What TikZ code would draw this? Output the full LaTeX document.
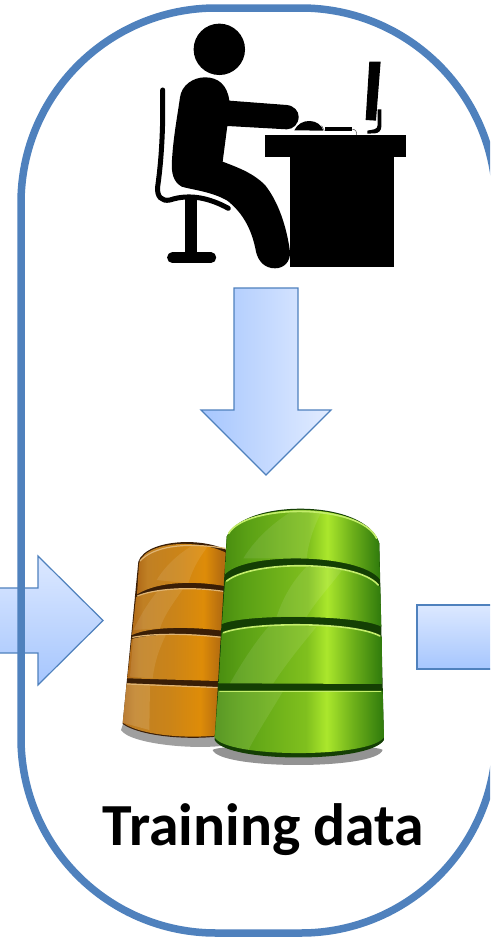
\documentclass[tikz,border=0pt]{standalone}
\usepackage{fontspec}
\setmainfont{Carlito}
\definecolor{ringblue}{HTML}{4F81BD}
\definecolor{arrowlight}{HTML}{E2ECFF}
\definecolor{arrowdark}{HTML}{A6C6FE}
\definecolor{greendark}{HTML}{143F04}
\definecolor{orangedark}{HTML}{3A1E06}
\definecolor{greenA}{HTML}{4A8E10}
\definecolor{greenB}{HTML}{5AA015}
\definecolor{greenC}{HTML}{80C01E}
\definecolor{greenD}{HTML}{ABE72C}
\definecolor{greenE}{HTML}{6DB01A}
\definecolor{greenF}{HTML}{2F7A0C}
\definecolor{orangeA}{HTML}{B06A18}
\definecolor{orangeB}{HTML}{C08024}
\definecolor{orangeC}{HTML}{CB8418}
\definecolor{orangeD}{HTML}{DE8C08}
\definecolor{orangeE}{HTML}{B56D10}
\definecolor{orangeF}{HTML}{B56D10}
\pgfdeclarehorizontalshading{greenbody}{100bp}{
 color(0bp)=(greenA);
 color(25bp)=(greenA);color(32bp)=(greenB);color(52bp)=(greenC);color(58bp)=(greenD);color(66bp)=(greenE);color(75bp)=(greenF);color(100bp)=(greenF)}
\pgfdeclarehorizontalshading{orangebody}{100bp}{
 color(0bp)=(orangeA);
 color(25bp)=(orangeA);color(30bp)=(orangeB);color(45bp)=(orangeC);color(58bp)=(orangeD);color(66bp)=(orangeE);color(75bp)=(orangeF);color(100bp)=(orangeF)}
\tikzset{
 ring/.style={draw=ringblue,line width=7.5pt,rounded corners=195pt},
 arrowshape/.style={draw=ringblue,line width=1.2pt,line join=miter},
 fillv/.style={top color=arrowlight!90!arrowdark,bottom color=arrowdark},
 fillh/.style={left color=arrowdark,right color=arrowlight},
 ink/.style={fill=black,draw=none},
 greenseg/.style={shading=greenbody,draw=none},
 orangeseg/.style={shading=orangebody,draw=none},
 gleam/.style={fill=white,opacity=.09,draw=none},
 grim/.style={draw=greenD!70!white,line width=1.6pt,line cap=round},
 orim/.style={draw=orangeC!60!white,line width=1.2pt,line cap=round},
 captiontext/.style={font=\bfseries\fontsize{59.7}{62}\selectfont,text=black,inner sep=0pt,anchor=base}
}
\begin{document}
\begin{tikzpicture}[x=1pt,y=-1pt]
\useasboundingbox (0,0) rectangle (490,937);
\clip (0,0) rectangle (490,937);
\fill[white] (0,0) rectangle (490,937);

% arrows
\path[arrowshape,fillv] (-5,588) -- (38,588) -- (38,556) -- (103,620.5) -- (38,685) -- (38,653) -- (-5,653) -- cycle;
\path[arrowshape,fillh] (234,288) -- (298,288) -- (298,410) -- (331,410) -- (266,475) -- (201,410) -- (234,410) -- cycle;
\path[arrowshape,fillv] (417,605) -- (500,605) -- (500,669) -- (417,669) -- cycle;

% ring
\draw[ring] (21,8) rectangle (496,933);

% person at desk (zoom coordinates)
\begin{scope}[shift={(140,10)},x=0.3333pt,y=-0.3333pt]
 \fill[ink] (238,118) circle [radius=25.7pt];
 \fill[ink] (120,262) .. controls (125,225) and (160,202) .. (195,202) .. controls (235,202) and (262,225) .. (268,272)
   -- (440,285) .. controls (462,287) and (476,303) .. (476,320) .. controls (476,342) and (460,358) .. (440,358)
   -- (262,348) -- (248,455) .. controls (300,475) and (340,490) .. (375,525)
   .. controls (415,575) and (440,650) .. (450,725) .. controls (452,755) and (432,775) .. (405,775)
   .. controls (375,775) and (355,755) .. (348,725) .. controls (336,660) and (310,610) .. (262,572)
   .. controls (215,545) and (160,540) .. (125,530) .. controls (100,515) and (93,490) .. (96,450)
   .. controls (100,380) and (112,320) .. (120,262) -- cycle;
 \draw[black,line width=5pt,line cap=round,line join=round]
   (68,240) -- (68,330) .. controls (66,420) and (60,480) .. (53,530)
   .. controls (50,560) and (65,575) .. (90,570) .. controls (150,550) and (210,565) .. (265,595);
 \fill[ink] (135,565) rectangle (171,735);
 \draw[black,line width=10.5pt,line cap=round] (97,743) -- (213,743);
 \fill[ink] (375,375) rectangle (798,442);
 \fill[ink] (450,442) rectangle (762,772);
 \fill[ink] (688,155) -- (722,155) -- (708,332) -- (677,330) -- cycle;
 \fill[ink] (713,298) -- (724,298) -- (724,350) .. controls (724,362) and (716,369) .. (705,370) -- (682,371) -- (682,362) -- (703,358) .. controls (710,356) and (713,352) .. (713,345) -- cycle;
 \fill[ink] (463,361) .. controls (472,342) and (490,332) .. (510,333) .. controls (530,334) and (545,345) .. (550,362) -- cycle;
 \fill[ink] (555,350) -- (637,350) -- (637,364) -- (555,364) -- cycle;
 \draw[black!70,line width=.5pt] (637,358) .. controls (648,358) and (650,365) .. (650,375);
 \draw[black!70,line width=.5pt] (545,347) -- (553,362);
\end{scope}

% databases (zoom coordinates)
\begin{scope}[shift={(110,500)},x=0.3333pt,y=-0.3333pt]
 % shadows
 \fill[gray!75] (33,690) .. controls (60,735) and (290,755) .. (380,730) -- (380,700) -- (40,670) -- cycle;
 \fill[gray!85] (308,750) .. controls (330,810) and (800,810) .. (818,750) .. controls (800,730) and (330,730) .. (308,750) -- cycle;

 % orange cylinder
 \fill[orangedark] (85,185) .. controls (110,110) and (330,105) .. (390,180) -- (380,700) .. controls (280,725) and (100,715) .. (38,672) -- cycle;
 \path[orangeseg] (87,190) .. controls (110,110) and (330,115) .. (390,190) -- (390,268) .. controls (280,240) and (150,240) .. (81,283) -- cycle;
 \path[orangeseg] (78,292) .. controls (130,260) and (280,258) .. (390,285) -- (390,400) .. controls (280,380) and (130,375) .. (66,405) -- cycle;
 \path[orangeseg] (65,417) .. controls (130,398) and (280,400) .. (390,418) -- (390,545) -- (52,535) -- cycle;
 \path[orangeseg] (50,550) -- (390,565) -- (390,695) .. controls (280,722) and (100,712) .. (38,668) -- cycle;
 \begin{scope}
  \clip (87,190) .. controls (110,110) and (330,115) .. (390,190) -- (390,268) .. controls (280,240) and (150,240) .. (81,283) -- cycle;
  \fill[gleam] (140,240) .. controls (170,190) and (220,150) .. (260,130) -- (300,130) .. controls (270,170) and (250,200) .. (235,250) -- cycle;
 \end{scope}
 \begin{scope}
  \clip (78,292) .. controls (130,260) and (280,258) .. (390,285) -- (390,400) .. controls (280,380) and (130,375) .. (66,405) -- cycle;
  \fill[gleam] (70,390) .. controls (100,330) and (120,300) .. (150,265) -- (220,265) .. controls (190,310) and (165,340) .. (150,385) -- cycle;
 \end{scope}
 \begin{scope}
  \clip (65,417) .. controls (130,398) and (280,400) .. (390,418) -- (390,545) -- (52,535) -- cycle;
  \fill[gleam] (60,530) -- (70,410) -- (170,400) .. controls (150,440) and (135,480) .. (128,535) -- cycle;
 \end{scope}
 \fill[white,opacity=.13] (50,550) -- (120,553) -- (118,690) -- (38,668) -- cycle;
 \draw[orim] (90,183) .. controls (130,140) and (220,125) .. (345,145);
 \draw[orim] (82,288) .. controls (130,268) and (230,258) .. (340,274);
 \draw[orim] (68,412) .. controls (130,400) and (230,400) .. (335,412);
 \draw[orim] (52,552) -- (330,563);

 % green cylinder
 \fill[greendark] (350,110) .. controls (400,-5) and (770,-5) .. (808,130) -- (822,720) .. controls (780,790) and (350,790) .. (314,720) -- cycle;
 \path[greenseg] (350,110) .. controls (400,0) and (770,0) .. (808,130) -- (810,238) .. controls (750,160) and (410,155) .. (346,222) -- cycle;
 \path[greenseg] (345,245) .. controls (420,180) and (750,180) .. (811,262) -- (814,380) .. controls (750,345) and (410,340) .. (336,372) -- cycle;
 \path[greenseg] (335,400) .. controls (420,365) and (740,365) .. (816,412) -- (817,552) -- (326,550) -- cycle;
 \path[greenseg] (325,572) -- (818,572) -- (822,712) .. controls (780,775) and (350,775) .. (314,712) -- cycle;
 \begin{scope}
  \clip (350,110) .. controls (400,0) and (770,0) .. (808,130) -- (810,238) .. controls (750,160) and (410,155) .. (346,222) -- cycle;
  \fill[gleam] (400,175) .. controls (440,110) and (500,60) .. (560,25) -- (640,25) .. controls (610,80) and (595,130) .. (590,175) -- cycle;
 \end{scope}
 \begin{scope}
  \clip (345,245) .. controls (420,180) and (750,180) .. (811,262) -- (814,380) .. controls (750,345) and (410,340) .. (336,372) -- cycle;
  \fill[gleam] (500,350) .. controls (520,290) and (550,240) .. (590,200) -- (700,205) .. controls (660,260) and (620,300) .. (590,350) -- cycle;
 \end{scope}
 \begin{scope}
  \clip (335,400) .. controls (420,365) and (740,365) .. (816,412) -- (817,552) -- (326,550) -- cycle;
  \fill[gleam] (360,550) .. controls (400,480) and (440,420) .. (480,375) -- (620,380) .. controls (570,440) and (530,490) .. (490,550) -- cycle;
 \end{scope}
 \begin{scope}
  \clip (325,572) -- (818,572) -- (822,712) .. controls (780,775) and (350,775) .. (314,712) -- cycle;
  \fill[gleam] (325,572) -- (520,572) .. controls (480,640) and (440,700) .. (410,760) -- (314,730) -- cycle;
 \end{scope}
 \draw[grim] (356,100) .. controls (410,10) and (750,10) .. (800,115);
 \draw[grim] (350,243) .. controls (430,180) and (740,180) .. (805,255);
 \draw[grim] (340,398) .. controls (430,365) and (730,365) .. (810,408);
 \draw[grim] (330,575) -- (812,575);
\end{scope}

\node[captiontext] (caption) at (263.5,845) {Training data};
\end{tikzpicture}
\end{document}
